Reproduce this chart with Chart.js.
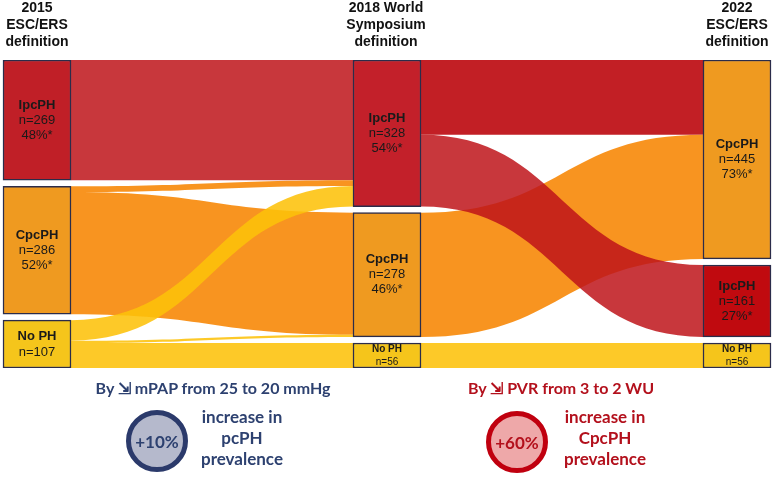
<!DOCTYPE html>
<html lang="en">
<head>
<meta charset="UTF-8">
<title>PH definitions – sankey</title>
<script src="https://cdn.jsdelivr.net/npm/chart.js"></script>
<style>
body{margin:0;background:#fff;overflow:hidden;font-family:"Liberation Sans",Arial,sans-serif}
#wrap{position:relative;width:777px;height:479px;overflow:hidden}
#chart{position:absolute;left:0;top:0}
.hdr{position:absolute;top:-1px;width:130px;text-align:center;font-weight:bold;font-size:14px;line-height:17px;color:#111}
.note{position:absolute;font-family:Lato,"Open Sans",sans-serif;font-weight:bold;white-space:nowrap;text-align:center}
.title{font-size:16px;top:378px}
.circle{position:absolute;width:52px;height:52px;border-radius:50%;border:5px solid;display:flex;align-items:center;justify-content:center;font-family:Lato,"Open Sans",sans-serif;font-weight:bold;font-size:17px}
.desc{font-size:17px;line-height:21px;top:406px}
.blue{color:#2d4170}
.red{color:#b3101c}
</style>
</head>
<body>
<div id="wrap">
  <canvas id="chart" width="777" height="479"></canvas>
  <div class="hdr" style="left:-28px">2015<br>ESC/ERS<br>definition</div>
  <div class="hdr" style="left:321px">2018 World<br>Symposium<br>definition</div>
  <div class="hdr" style="left:672px">2022<br>ESC/ERS<br>definition</div>

  <div class="note title blue" style="left:83px;width:260px">By ⇲ mPAP from 25 to 20 mmHg</div>
  <div class="circle blue" style="left:126px;top:410px;background:#b5b9cc;border-color:#2b3a6b">+10%</div>
  <div class="note desc blue" style="left:182px;width:120px">increase in<br>pcPH<br>prevalence</div>

  <div class="note title red" style="left:451px;width:220px">By ⇲ PVR from 3 to 2 WU</div>
  <div class="circle red" style="left:486px;top:411px;background:#eea8a9;border-color:#c0000f">+60%</div>
  <div class="note desc red" style="left:545px;width:120px">increase in<br>CpcPH<br>prevalence</div>
</div>

<script>
// node names, counts and shares for each definition
const nodes2015=['IpcPH','CpcPH','No PH'];
const counts2015=[269,286,107];
const shares2015=['48%*','52%*',''];

const nodes2018=['IpcPH','CpcPH','No PH'];
const counts2018=[328,278,56];
const shares2018=['54%*','46%*',''];

const nodes2022=['CpcPH','IpcPH','No PH'];
const counts2022=[445,161,56];
const shares2022=['73%*','27%*',''];

// patients moving between classes: [from, to, n]
const flows2015to2018=[['IpcPH','IpcPH',269],['CpcPH','IpcPH',13],['CpcPH','CpcPH',273],['No PH','IpcPH',46],['No PH','CpcPH',5],['No PH','No PH',56]];
const flows2018to2022=[['IpcPH','CpcPH',167],['CpcPH','CpcPH',278],['IpcPH','IpcPH',161],['No PH','No PH',56]];

const nodeGap=13.5; // gap between nodes in patient units

const nodeFill={
  '0:IpcPH':'#c01f27','1:IpcPH':'#c3202a','2:IpcPH':'#c00a0f',
  'CpcPH':'#ef9a20','No PH':'#f5c51b'
};
const linkFill={'IpcPH':'rgba(190,20,26,0.85)','CpcPH':'rgba(247,140,15,0.93)','No PH':'rgba(253,194,10,0.88)'};
const linkOverride={'1:IpcPH>CpcPH':'#c21f25'};

// build nodes
const stages=[[nodes2015,counts2015,shares2015],[nodes2018,counts2018,shares2018],[nodes2022,counts2022,shares2022]];
const nodeData=[],nodeInfo=[],nodeColors=[];
let yMax=0;
stages.forEach(([names,counts,shares],s)=>{
  let acc=0;
  names.forEach((n,i)=>{
    nodeData.push({x:s,y:[acc,acc+counts[i]]});
    nodeInfo.push({stage:s,name:n,count:counts[i],share:shares[i],lo:acc});
    nodeColors.push(nodeFill[s+':'+n]||nodeFill[n]);
    acc+=counts[i]+nodeGap;
  });
  yMax=Math.max(yMax,acc-nodeGap);
});
const idx=(s,n)=>nodeInfo.findIndex(d=>d.stage===s&&d.name===n);

// build link geometry (value units)
const links=[];
[flows2015to2018,flows2018to2022].forEach((flows,s)=>{
  const list=flows.map(([a,b,v])=>({si:idx(s,a),ti:idx(s+1,b),v,key:s+':'+a+'>'+b,src:a}));
  const sOff={},tOff={};
  [...list].sort((p,q)=>p.ti-q.ti).forEach(l=>{
    sOff[l.si]=sOff[l.si]||nodeInfo[l.si].lo; l.s0=sOff[l.si]; sOff[l.si]+=l.v;
  });
  [...list].sort((p,q)=>p.si-q.si).forEach(l=>{
    tOff[l.ti]=tOff[l.ti]||nodeInfo[l.ti].lo; l.t0=tOff[l.ti]; tOff[l.ti]+=l.v;
  });
  links.push(...list);
});

const sankeyPlugin={
  id:'sankey',
  beforeDatasetsDraw(chart){
    const ctx=chart.ctx,meta=chart.getDatasetMeta(0),ys=chart.scales.y;
    ctx.save();
    links.forEach(l=>{
      const a=meta.data[l.si],b=meta.data[l.ti];
      const x0=a.x+a.width/2,x1=b.x-b.width/2,xm=(x0+x1)/2;
      const y0a=ys.getPixelForValue(l.s0),y0b=ys.getPixelForValue(l.s0+l.v);
      const y1a=ys.getPixelForValue(l.t0),y1b=ys.getPixelForValue(l.t0+l.v);
      ctx.fillStyle=linkOverride[l.key]||linkFill[l.src];
      ctx.beginPath();
      ctx.moveTo(x0,y0a);
      ctx.bezierCurveTo(xm,y0a,xm,y1a,x1,y1a);
      ctx.lineTo(x1,y1b);
      ctx.bezierCurveTo(xm,y1b,xm,y0b,x0,y0b);
      ctx.closePath();
      ctx.fill();
    });
    ctx.restore();
  },
  afterDatasetsDraw(chart){
    const ctx=chart.ctx,meta=chart.getDatasetMeta(0);
    ctx.save();
    ctx.fillStyle='#1a1a1a';
    ctx.textAlign='center';
    ctx.textBaseline='middle';
    const ff='"Liberation Sans",Arial,sans-serif';
    meta.data.forEach((el,i)=>{
      const d=nodeInfo[i];
      const cy=(el.y+el.base)/2,h=Math.abs(el.base-el.y);
      if(d.share){
        ctx.font='bold 13px '+ff; ctx.fillText(d.name,el.x,cy-15);
        ctx.font='13px '+ff; ctx.fillText('n='+d.count,el.x,cy);
        ctx.fillText(d.share,el.x,cy+15);
      }else if(h>40){
        ctx.font='bold 13px '+ff; ctx.fillText(d.name,el.x,cy-8);
        ctx.font='13px '+ff; ctx.fillText('n='+d.count,el.x,cy+8);
      }else{
        ctx.font='bold 10px '+ff; ctx.fillText(d.name,el.x,cy-6);
        ctx.font='10px '+ff; ctx.fillText('n='+d.count,el.x,cy+6.5);
      }
    });
    ctx.restore();
  }
};

new Chart(document.getElementById('chart'),{
  type:'bar',
  data:{datasets:[{
    data:nodeData,
    backgroundColor:nodeColors,
    borderColor:'#2b2c4a',
    borderWidth:1.5,
    borderSkipped:false,
    barThickness:68
  }]},
  options:{
    responsive:false,
    animation:false,
    layout:{padding:{top:60,bottom:111,left:2,right:5}},
    plugins:{legend:{display:false},tooltip:{enabled:false}},
    scales:{
      x:{type:'linear',min:-0.1,max:2.1,offset:false,display:false},
      y:{min:0,max:yMax,reverse:true,display:false}
    }
  },
  plugins:[sankeyPlugin]
});
</script>
</body>
</html>
